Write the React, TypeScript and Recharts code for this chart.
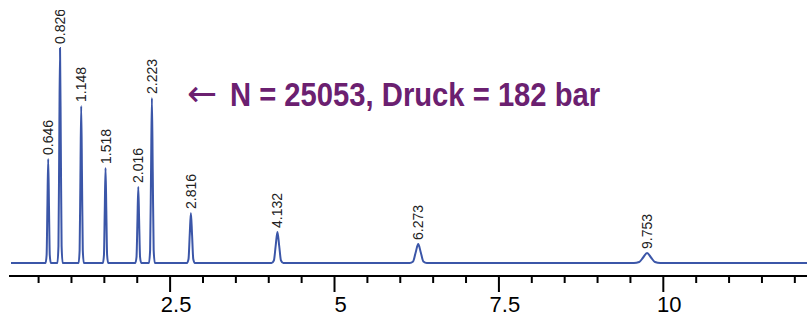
import { ComposedChart, Line, Scatter, XAxis, YAxis } from 'recharts';

// retention time (min) and detector signal
const traceTime = [
  0.08,
  0.606, 0.622, 0.634, 0.646, 0.658, 0.670, 0.686,
  0.786, 0.802, 0.814, 0.826, 0.838, 0.850, 0.866,
  1.108, 1.124, 1.136, 1.148, 1.160, 1.172, 1.188,
  1.478, 1.494, 1.506, 1.518, 1.530, 1.542, 1.558,
  1.971, 1.989, 2.003, 2.016, 2.029, 2.043, 2.061,
  2.178, 2.196, 2.210, 2.223, 2.236, 2.250, 2.268,
  2.756, 2.780, 2.798, 2.816, 2.834, 2.852, 2.876,
  4.042, 4.078, 4.105, 4.132, 4.159, 4.186, 4.222,
  6.143, 6.195, 6.234, 6.273, 6.312, 6.351, 6.403,
  9.553, 9.633, 9.693, 9.753, 9.813, 9.873, 9.953,
  12.185,
];
const traceSignal = [
  0,
  0, 8, 57, 104, 57, 8, 0,
  0, 17, 118, 215, 118, 17, 0,
  0, 13, 86, 157, 86, 13, 0,
  0, 8, 52, 95, 52, 8, 0,
  0, 6, 42, 76, 42, 6, 0,
  0, 13, 91, 165, 91, 13, 0,
  0, 4, 28, 50, 28, 4, 0,
  0, 2.5, 17, 31, 17, 2.5, 0,
  0, 1.5, 10.5, 19, 10.5, 1.5, 0,
  0, 1, 5.5, 10, 5.5, 1, 0,
  0,
];

const peakTimes = [0.646, 0.826, 1.148, 1.518, 2.016, 2.223, 2.816, 4.132, 6.273, 9.753];
const peakHeights = [104, 215, 157, 95, 76, 165, 50, 31, 19, 10];
const peakLabels = ['0.646', '0.826', '1.148', '1.518', '2.016', '2.223', '2.816', '4.132', '6.273', '9.753'];

const xTicks = [0.5, 1, 1.5, 2, 2.5, 3, 3.5, 4, 4.5, 5, 5.5, 6, 6.5, 7, 7.5, 8, 8.5, 9, 9.5, 10, 10.5, 11, 11.5, 12];
const majorTicks = [2.5, 5, 7.5, 10];

const trace = traceTime.map((t, i) => ({ t, y: traceSignal[i] }));
const apexes = peakTimes.map((t, i) => ({ t, y: peakHeights[i], label: peakLabels[i] }));

const TRACE = '#3b56a8';
const PURPLE = '#6b2070';
const SANS = '"Liberation Sans", Arial, sans-serif';

const AxisTick = ({ x, y, payload }: any) => {
  const major = majorTicks.includes(payload.value);
  return (
    <g>
      <line x1={x} x2={x} y1={y} y2={y + (major ? 16 : 7)} stroke="#000" strokeWidth={2} />
      {major && (
        <text x={x + 6} y={y + 36} textAnchor="middle" fontSize={22} fill="#000" fontFamily={SANS}>
          {payload.value}
        </text>
      )}
    </g>
  );
};

const ApexLabel = ({ cx, cy, payload }: any) => {
  const ly = cy - 4;
  return (
    <text x={cx} y={ly} transform={`rotate(-90, ${cx}, ${ly})`} textAnchor="start"
      dominantBaseline="central" fontSize={14} fill="#222" fontFamily={SANS}>
      {payload.label}
    </text>
  );
};

export default function App() {
  return (
    <div style={{ position: 'relative', width: 807, height: 318, background: '#fff' }}>
      <style>{'body{margin:0}'}</style>
      <ComposedChart width={807} height={318} margin={{ top: 10, right: 0, bottom: 0, left: 9 }}>
        <XAxis
          dataKey="t"
          type="number"
          domain={[0.05, 12.185]}
          allowDataOverflow
          ticks={xTicks}
          interval={0}
          tickSize={0}
          tickMargin={0}
          tickLine={false}
          tick={<AxisTick />}
          axisLine={{ stroke: '#000', strokeWidth: 2 }}
          height={42}
        />
        <YAxis hide type="number" domain={[-13, 253]} allowDataOverflow />
        <Line
          data={trace}
          dataKey="y"
          type="monotone"
          stroke={TRACE}
          strokeWidth={2}
          dot={false}
          isAnimationActive={false}
        />
        <Scatter data={apexes} dataKey="y" shape={<ApexLabel />} isAnimationActive={false} />
      </ComposedChart>
      {/* annotation: condensed bold look made from Liberation Sans Bold squeezed horizontally */}
      <div
        style={{
          position: 'absolute',
          left: 187,
          top: 76,
          color: PURPLE,
          lineHeight: 1,
          whiteSpace: 'nowrap',
          display: 'flex',
          alignItems: 'baseline',
        }}
      >
        <span style={{ fontFamily: '"DejaVu Sans", sans-serif', fontSize: 36, fontWeight: 400, width: 43, display: 'inline-block' }}>←</span>
        <span
          style={{
            fontFamily: SANS,
            fontSize: 33,
            fontWeight: 700,
            display: 'inline-block',
            transform: 'scaleX(0.885)',
            transformOrigin: 'left',
          }}
        >
          N = 25053, Druck = 182 bar
        </span>
      </div>
    </div>
  );
}
